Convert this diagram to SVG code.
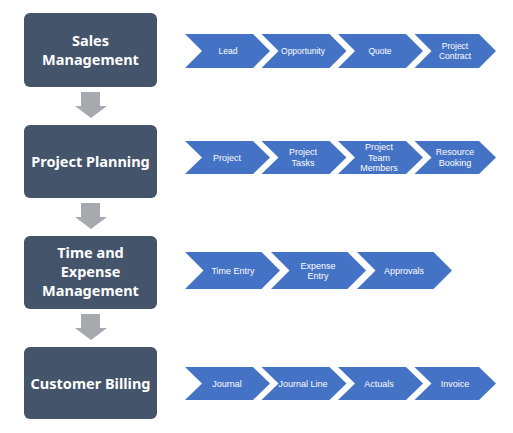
<svg xmlns="http://www.w3.org/2000/svg" width="513" height="433" viewBox="0 0 513 433">
<style>
.box{fill:#44546A}
.ttl{fill:#FFFFFF;font-family:"Noto Sans","Open Sans",sans-serif;font-weight:bold;font-size:14.5px;text-anchor:middle}
.chev{fill:#4472C4}
.lbl{fill:#FFFFFF;font-family:"Liberation Sans",Arial,sans-serif;font-size:9px;text-anchor:middle}
.sm{font-size:8.5px}
.dn{fill:#A6A9AE}
</style>
<rect width="513" height="433" fill="#FFFFFF"/>
<g id="connectors">
<polygon class="dn" points="81,92 100,92 100,106 107,106 91,118 75,106 81,106"/>
<polygon class="dn" points="81,203 100,203 100,217 107,217 91,229 75,217 81,217"/>
<polygon class="dn" points="81,314 100,314 100,328 107,328 91,340 75,328 81,328"/>
</g>
<g id="sales-management">
<rect class="box" x="24" y="13" width="133" height="74" rx="6"/>
<text class="ttl" x="90.5" y="46">Sales</text>
<text class="ttl" x="90.5" y="65">Management</text>
</g>
<g id="project-planning">
<rect class="box" x="24" y="125" width="133" height="73" rx="6"/>
<text class="ttl" x="90.5" y="167">Project Planning</text>
</g>
<g id="time-expense">
<rect class="box" x="24" y="236" width="133" height="73" rx="6"/>
<text class="ttl" x="90.5" y="258">Time and</text>
<text class="ttl" x="90.5" y="277">Expense</text>
<text class="ttl" x="90.5" y="296">Management</text>
</g>
<g id="customer-billing">
<rect class="box" x="24" y="347" width="133" height="72" rx="6"/>
<text class="ttl" x="90.5" y="389">Customer Billing</text>
</g>
<g id="lead">
<polygon class="chev" points="185,34 253,34 270,51 253,68 185,68 202,51"/>
<text class="lbl sm" x="228" y="54">Lead</text>
</g>
<g id="opportunity">
<polygon class="chev" points="261.5,34 329.5,34 346.5,51 329.5,68 261.5,68 278.5,51"/>
<text class="lbl sm" x="303" y="54">Opportunity</text>
</g>
<g id="quote">
<polygon class="chev" points="338,34 406,34 423,51 406,68 338,68 355,51"/>
<text class="lbl sm" x="380" y="54">Quote</text>
</g>
<g id="project-contract">
<polygon class="chev" points="414.5,34 479,34 496,51 479,68 414.5,68 431.5,51"/>
<text class="lbl sm" x="455" y="49">Project</text>
<text class="lbl sm" x="455" y="58.5">Contract</text>
</g>
<g id="project">
<polygon class="chev" points="185,141 253,141 270,157.5 253,174 185,174 202,157.5"/>
<text class="lbl" x="227" y="160.5">Project</text>
</g>
<g id="project-tasks">
<polygon class="chev" points="261.5,141 329.5,141 346.5,157.5 329.5,174 261.5,174 278.5,157.5"/>
<text class="lbl" x="303" y="155">Project</text>
<text class="lbl" x="303" y="166">Tasks</text>
</g>
<g id="project-team-members">
<polygon class="chev" points="338,141 406,141 423,157.5 406,174 338,174 355,157.5"/>
<text class="lbl" x="379" y="150">Project</text>
<text class="lbl" x="379" y="160.5">Team</text>
<text class="lbl" x="379" y="171">Members</text>
</g>
<g id="resource-booking">
<polygon class="chev" points="414.5,141 479,141 496,157.5 479,174 414.5,174 431.5,157.5"/>
<text class="lbl" x="455" y="155">Resource</text>
<text class="lbl" x="455" y="166">Booking</text>
</g>
<g id="time-entry">
<polygon class="chev" points="185,252 261.5,252 280,270.5 261.5,289 185,289 203.5,270.5"/>
<text class="lbl" x="233" y="274">Time Entry</text>
</g>
<g id="expense-entry">
<polygon class="chev" points="271,252 347.5,252 366,270.5 347.5,289 271,289 289.5,270.5"/>
<text class="lbl" x="318" y="268.5">Expense</text>
<text class="lbl" x="318" y="279">Entry</text>
</g>
<g id="approvals">
<polygon class="chev" points="357,252 433.5,252 452,270.5 433.5,289 357,289 375.5,270.5"/>
<text class="lbl" x="404" y="274">Approvals</text>
</g>
<g id="journal">
<polygon class="chev" points="185,367 253,367 270,383.5 253,400 185,400 202,383.5"/>
<text class="lbl" x="227" y="386.5">Journal</text>
</g>
<g id="journal-line">
<polygon class="chev" points="261.5,367 329.5,367 346.5,383.5 329.5,400 261.5,400 278.5,383.5"/>
<text class="lbl" x="303" y="386.5">Journal Line</text>
</g>
<g id="actuals">
<polygon class="chev" points="338,367 406,367 423,383.5 406,400 338,400 355,383.5"/>
<text class="lbl" x="379" y="386.5">Actuals</text>
</g>
<g id="invoice">
<polygon class="chev" points="414.5,367 479,367 496,383.5 479,400 414.5,400 431.5,383.5"/>
<text class="lbl" x="455" y="386.5">Invoice</text>
</g>
</svg>
